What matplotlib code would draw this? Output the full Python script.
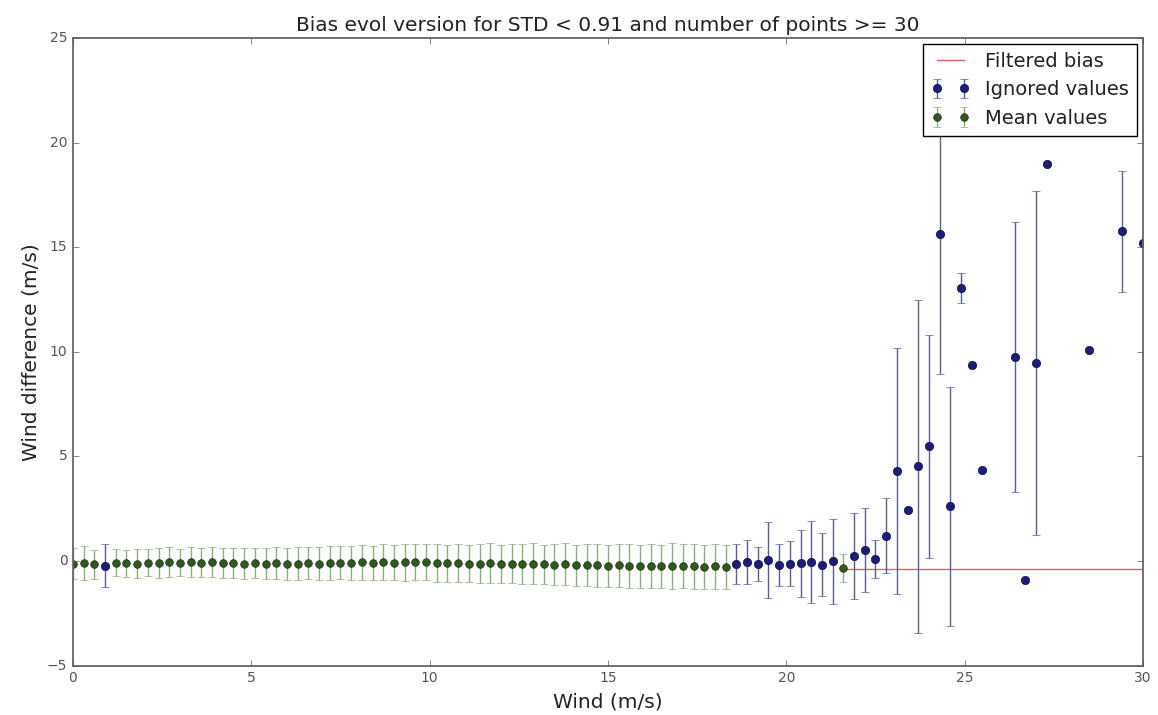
import matplotlib
matplotlib.use('Agg')
import matplotlib.pyplot as plt
import numpy as np

plt.style.use('classic')

# mean values (kept by the filter)
wind_mean = [0.0, 0.3, 0.6, 1.2, 1.5, 1.8, 2.1, 2.4, 2.7, 3.0, 3.3, 3.6, 3.9,
             4.2, 4.5, 4.8, 5.1, 5.4, 5.7, 6.0, 6.3, 6.6, 6.9, 7.2, 7.5, 7.8,
             8.1, 8.4, 8.7, 9.0, 9.3, 9.6, 9.9, 10.2, 10.5, 10.8, 11.1, 11.4,
             11.7, 12.0, 12.3, 12.6, 12.9, 13.2, 13.5, 13.8, 14.1, 14.4, 14.7,
             15.0, 15.3, 15.6, 15.9, 16.2, 16.5, 16.8, 17.1, 17.4, 17.7, 18.0,
             18.3, 21.6]
bias_mean = [-0.12, -0.10, -0.15, -0.08, -0.10, -0.12, -0.08, -0.10, -0.05,
             -0.07, -0.05, -0.08, -0.06, -0.10, -0.08, -0.12, -0.10, -0.12,
             -0.10, -0.14, -0.12, -0.10, -0.12, -0.10, -0.08, -0.10, -0.06,
             -0.08, -0.05, -0.08, -0.06, -0.04, -0.05, -0.08, -0.10, -0.10,
             -0.12, -0.12, -0.10, -0.14, -0.12, -0.15, -0.14, -0.16, -0.18,
             -0.16, -0.20, -0.18, -0.20, -0.22, -0.20, -0.24, -0.25, -0.22,
             -0.26, -0.24, -0.22, -0.25, -0.28, -0.26, -0.27, -0.33]
std_mean = [0.75, 0.80, 0.70, 0.65, 0.65, 0.70, 0.65, 0.70, 0.70, 0.65, 0.70,
            0.70, 0.72, 0.70, 0.72, 0.75, 0.72, 0.75, 0.78, 0.75, 0.80, 0.78,
            0.80, 0.82, 0.80, 0.80, 0.85, 0.82, 0.85, 0.85, 0.88, 0.85, 0.88,
            0.90, 0.88, 0.92, 0.90, 0.92, 0.95, 0.92, 0.95, 0.95, 0.98, 0.95,
            0.98, 1.00, 0.98, 1.00, 1.02, 1.00, 1.02, 1.05, 1.02, 1.05, 1.05,
            1.08, 1.05, 1.08, 1.05, 1.08, 1.05, 0.68]

# ignored values (rejected by the filter)
wind_ign = [0.9, 18.6, 18.9, 19.2, 19.5, 19.8, 20.1, 20.4, 20.7, 21.0, 21.3,
            21.9, 22.2, 22.5, 22.8, 23.1, 23.4, 23.7, 24.0, 24.3, 24.6, 24.9,
            25.2, 25.5, 26.4, 26.7, 27.0, 27.3, 28.5, 29.4, 30.0]
bias_ign = [-0.22, -0.15, -0.05, -0.15, 0.05, -0.18, -0.13, -0.10, -0.05,
            -0.18, -0.02, 0.25, 0.54, 0.10, 1.21, 4.30, 2.45, 4.52, 5.48,
            15.62, 2.61, 13.05, 9.35, 4.36, 9.75, -0.89, 9.46, 18.97, 10.10,
            15.75, 15.22]
std_ign = [1.03, 0.95, 1.05, 0.80, 1.80, 1.00, 1.07, 1.60, 1.95, 1.50, 2.05,
           2.05, 2.00, 0.92, 1.80, 5.87, 0.0, 7.96, 5.33, 6.70, 5.73, 0.70,
           0.0, 0.0, 6.43, 0.0, 8.20, 0.0, 0.0, 2.90, 0.0]

# filtered bias line
wind_filt = [21.6, 30.0]
bias_filt = [-0.38, -0.38]

fig = plt.figure(figsize=(11.58, 7.15), dpi=100, facecolor='white')
ax = fig.add_axes([0.063, 0.069, 0.924, 0.878])

ax.plot(wind_filt, bias_filt, color='#e06060', lw=1, label='Filtered bias')
ax.errorbar(wind_ign, bias_ign, yerr=std_ign, fmt='o', color='#1c1c80',
            ecolor='#5a5a9a', mec='#101040', ms=6, capsize=3, lw=1,
            label='Ignored values')
ax.errorbar(wind_mean, bias_mean, yerr=std_mean, fmt='o', color='#2e5a1e',
            ecolor='#8aae78', mec='#1c2c10', ms=5.5, capsize=3, lw=1,
            label='Mean values')

ax.set_xlim(0, 30)
ax.set_ylim(-5, 25)
ax.set_xticks(np.arange(0, 31, 5))
ax.set_yticks(np.arange(-5, 26, 5))
ax.tick_params(labelsize=10, colors='#555555')
for s in ax.spines.values():
    s.set_color('#666666')
    s.set_linewidth(1.3)

ax.set_title('Bias evol version for STD < 0.91 and number of points >= 30',
             fontsize=14.5, color='#222222')
ax.set_xlabel('Wind (m/s)', fontsize=14.5, color='#222222')
ax.set_ylabel('Wind difference (m/s)', fontsize=14.5, color='#222222')
leg = ax.legend(loc='upper right', fontsize=14, numpoints=2,
                borderaxespad=0.3)
for t in leg.get_texts():
    t.set_color('#222222')

fig.savefig('out.png', dpi=100, facecolor='white')
